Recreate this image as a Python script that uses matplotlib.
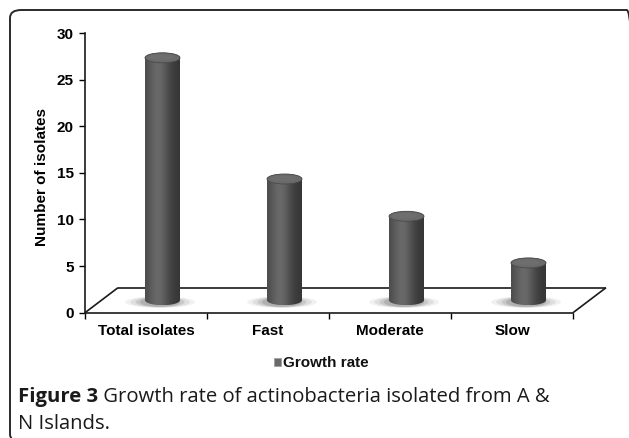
import numpy as np
import matplotlib
matplotlib.use("Agg")
import matplotlib.pyplot as plt
from matplotlib.patches import Rectangle, Ellipse, FancyBboxPatch, Polygon

categories = ["Total isolates", "Fast", "Moderate", "Slow"]
values = [26, 13, 9, 4]
yticks = [0, 5, 10, 15, 20, 25, 30]
ylabel = "Number of isolates"
legend_label = "Growth rate"
caption_bold = "Figure 3"
caption_rest = " Growth rate of actinobacteria isolated from A &"
caption_line2 = "N Islands."

W, H = 629, 438
fig = plt.figure(figsize=(W / 100, H / 100), dpi=100)
fig.patch.set_facecolor("white")

def fx(px):
    return px / W

def fy(py):
    return 1 - py / H

CH = "Liberation Sans"

# border (rounded, partly off-canvas)
border = FancyBboxPatch((fx(10), fy(442)), fx(628), (432) / H,
                        boxstyle="round,pad=0,rounding_size=0.018",
                        transform=fig.transFigure, fill=False,
                        edgecolor="#2a2a2a", linewidth=1.4)
fig.patches.append(border)

ax_l, ax_r, ax_t, ax_b = 85, 573, 33, 312.7
ax = fig.add_axes([fx(ax_l), fy(ax_b), (ax_r - ax_l) / W, (ax_b - ax_t) / H])
ax.set_facecolor("none")
ax.set_xlim(0, 4)
ax.set_ylim(0, 30)

ppx = (ax_r - ax_l) / 4.0
ppy = (ax_b - ax_t) / 30.0
dx = 33 / ppx
dy = 25 / ppy

floor_kw = dict(color="#1a1a1a", lw=1.2, clip_on=False, solid_capstyle="butt")
ax.plot([0, dx], [0, dy], **floor_kw)
ax.plot([dx, 4 + dx], [dy, dy], **floor_kw)
ax.plot([4, 4 + dx], [0, dy], **floor_kw)

for s in ["top", "right"]:
    ax.spines[s].set_visible(False)
for s in ["left", "bottom"]:
    ax.spines[s].set_color("#1a1a1a")
    ax.spines[s].set_linewidth(1.2)

ax.set_yticks(yticks)
ax.set_yticklabels([str(t) for t in yticks], fontsize=11, fontweight="bold", family=CH)
ax.tick_params(axis="y", direction="out", length=4, width=1, pad=4)
ax.set_xticks([0, 1, 2, 3, 4])
ax.set_xticklabels([])
ax.set_xticks([i + 0.5 for i in range(len(categories))], minor=True)
ax.set_xticklabels(categories, minor=True, fontsize=11, fontweight="bold", family=CH)
ax.tick_params(axis="x", which="major", direction="out", length=4, width=1)
ax.tick_params(axis="x", which="minor", length=0, pad=8)
fig.text(fx(42), fy(177), ylabel, rotation=90, fontsize=11, fontweight="bold",
         family=CH, ha="center", va="center")

n = 64
t = np.linspace(0, 1, n)
shade = 0.26 + 0.17 * np.exp(-((t - 0.38) / 0.32) ** 2) - 0.05 * t
grad = np.tile(shade, (2, 1))

bw = 35 / ppx
eh = 10 / ppy
zc = dy / 2
for i, v in enumerate(values):
    cx = i + 0.5 + dx / 2
    x0, x1 = cx - bw / 2, cx + bw / 2
    base = zc
    top = v + zc
    for k, (sw, a) in enumerate([(2.0, 0.10), (1.7, 0.15), (1.4, 0.22), (1.15, 0.3)]):
        ax.add_patch(Ellipse((cx - 0.02, base - 0.2), bw * sw, eh * (0.9 + 0.25 * (4 - k) / 4),
                             facecolor="#7a7a7a", edgecolor="none", alpha=a, zorder=2))
    th = np.linspace(np.pi, 2 * np.pi, 40)
    bottom_arc = [(cx + bw / 2 * np.cos(a_), base + eh / 2 * np.sin(a_)) for a_ in th]
    top_arc = [(cx + bw / 2 * np.cos(a_), top + eh / 2 * np.sin(a_))
               for a_ in np.linspace(0, np.pi, 40)]
    poly = bottom_arc + [(x1, top)] + top_arc + [(x0, base)]
    clip = Polygon(poly, closed=True, transform=ax.transData, facecolor="none", edgecolor="none")
    ax.add_patch(clip)
    im = ax.imshow(grad, cmap="gray", vmin=0, vmax=1,
                   extent=(x0, x1, base - eh / 2, top + eh / 2),
                   aspect="auto", interpolation="bilinear", zorder=3)
    im.set_clip_path(clip)
    ax.add_patch(Ellipse((cx, top), bw, eh, facecolor="#6a6a6a", edgecolor="#4a4a4a",
                         linewidth=0.6, zorder=4))
    ax.add_patch(Ellipse((cx - bw * 0.05, top + eh * 0.05), bw * 0.7, eh * 0.55,
                         facecolor="#727272", edgecolor="none", alpha=0.6, zorder=4))

ax.set_xlim(0, 4)
ax.set_ylim(0, 30)

# legend
fig.patches.append(Rectangle((fx(274), fy(366)), 7 / W, 8 / H, transform=fig.transFigure,
                             facecolor="#6a6a6a", edgecolor="#a0a0a0", linewidth=0.6))
fig.text(fx(283), fy(367), legend_label, fontsize=11, fontweight="bold",
         family=CH, va="baseline", ha="left", color="#111111")

# caption
cap_fs = 14.6
t1 = fig.text(fx(18), fy(402), caption_bold, fontsize=cap_fs, fontweight="bold",
              family="Open Sans", va="baseline", ha="left", color="#1a1a1a")
fig.canvas.draw()
bb = t1.get_window_extent(renderer=fig.canvas.get_renderer())
fig.text(bb.x1 / W, fy(402), caption_rest, fontsize=cap_fs, family="Open Sans",
         va="baseline", ha="left", color="#1a1a1a")
fig.text(fx(18), fy(429), caption_line2, fontsize=cap_fs, family="Open Sans",
         va="baseline", ha="left", color="#1a1a1a")

fig.savefig("out.png", dpi=100, facecolor="white")
